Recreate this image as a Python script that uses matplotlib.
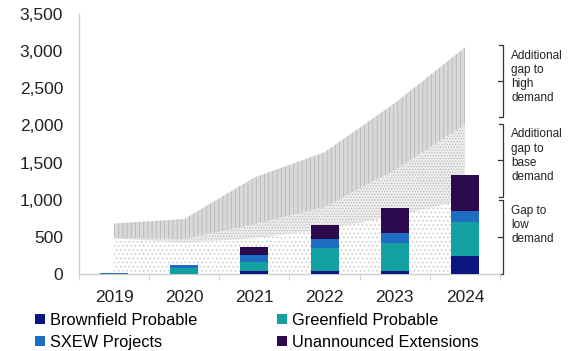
import matplotlib.pyplot as plt
import matplotlib.transforms as mtransforms
import numpy as np

plt.rcParams['font.family'] = ['Liberation Sans', 'DejaVu Sans']

years = ['2019', '2020', '2021', '2022', '2023', '2024']

# supply additions by project type (kt)
brownfield = [0, 5, 35, 45, 45, 246]
greenfield = [0, 75, 130, 310, 377, 450]
sxew = [10, 40, 90, 113, 126, 156]
unannounced = [0, 0, 110, 193, 336, 481]

# cumulative supply gap against each demand scenario
gap_low = [480, 420, 480, 600, 780, 1000]
gap_base = [485, 470, 670, 900, 1400, 2010]
gap_high = [680, 740, 1300, 1640, 2300, 3050]

x = np.arange(len(years))

fig = plt.figure(figsize=(5.78, 3.51), dpi=100)
ax = fig.add_axes([0.1367, 0.2194, 0.7283, 0.7406])

plt.rcParams['hatch.linewidth'] = 0.5
ax.fill_between(x, 0, gap_low, facecolor='white', edgecolor='#c0c0c0',
                hatch='....', linewidth=0, zorder=1)
ax.fill_between(x, gap_low, gap_base, facecolor='#ececec', edgecolor='#b8b8b8',
                hatch='......', linewidth=0, zorder=1)
ax.fill_between(x, gap_base, gap_high, facecolor='#d9d9d9', edgecolor='#b0b0b0',
                hatch='||||', linewidth=0, zorder=1)

width = 0.4
series = [
    ('Brownfield Probable', brownfield, '#0b1580'),
    ('Greenfield Probable', greenfield, '#13a0a0'),
    ('SXEW Projects', sxew, '#1f6dc2'),
    ('Unannounced Extensions', unannounced, '#2c0a4e'),
]
bottom = np.zeros(len(years))
bars = []
for name, vals, color in series:
    bars.append(ax.bar(x, vals, width, bottom=bottom, color=color, label=name, zorder=3))
    bottom += np.array(vals)

ax.set_xlim(-0.5, 5.5)
ax.set_ylim(0, 3500)
ax.set_yticks(np.arange(0, 3501, 500))
ax.set_yticklabels([f'{v:,}' for v in range(0, 3501, 500)])
ax.set_xticks(x)
ax.set_xticklabels(years)
ax.set_xticks(np.arange(-0.5, 5.6, 1), minor=True)
ax.tick_params(axis='x', which='major', length=0, pad=11.5, labelsize=12.5, colors='#222222')
ax.tick_params(axis='x', which='minor', length=4, color='#cccccc', direction='out')
ax.tick_params(axis='y', length=0, pad=11.5, labelsize=12.5, colors='#222222')
for s in ['top', 'right']:
    ax.spines[s].set_visible(False)
for s in ['left', 'bottom']:
    ax.spines[s].set_color('#cccccc')
    ax.spines[s].set_linewidth(1)

# brackets on the right labelling the three gap bands
trans = mtransforms.blended_transform_factory(ax.transAxes, ax.transData)
brackets = [
    (2110, 3080, 'Additional\ngap to\nhigh\ndemand'),
    (1040, 2020, 'Additional\ngap to\nbase\ndemand'),
    (0, 990, 'Gap to\nlow\ndemand'),
]
bx = 1.0 + 3 / 421
for lo, hi, label in brackets:
    ax.plot([bx - 0.01, bx, bx, bx - 0.01], [hi, hi, lo, lo], color='#333333',
            lw=0.9, transform=trans, clip_on=False)
    mid = (lo + hi) / 2
    ax.plot([bx - 0.012, bx], [mid, mid], color='#333333', lw=0.9,
            transform=trans, clip_on=False)
    ax.text(bx + 0.02, hi - 60, label, transform=trans, va='top', ha='left',
            fontsize=8.5, color='#222222', linespacing=1.25)

# legend filled row by row: Brownfield | Greenfield, SXEW | Unannounced
order = [0, 2, 1, 3]
ax.legend([bars[i] for i in order], [series[i][0] for i in order],
          loc='upper left', bbox_to_anchor=(-0.1045, -0.149), ncol=2, frameon=False,
          fontsize=11.8, handlelength=0.6, handleheight=0.6, handletextpad=0.3,
          columnspacing=4.9, labelspacing=0.42, borderpad=0, borderaxespad=0)

fig.savefig('out.png', dpi=100)
